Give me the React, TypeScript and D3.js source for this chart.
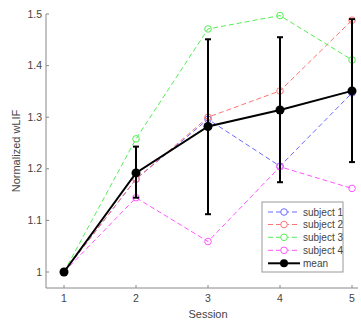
import React from "react";
import * as d3 from "d3";

const sessions = [1, 2, 3, 4, 5];
const subject1 = [1, 1.18, 1.296, 1.205, 1.347];
const subject2 = [1, 1.18, 1.3, 1.351, 1.488];
const subject3 = [1, 1.258, 1.471, 1.497, 1.411];
const subject4 = [1, 1.144, 1.059, 1.204, 1.162];
const meanVals = [1, 1.192, 1.282, 1.314, 1.351];
const errLow = [1, 1.144, 1.112, 1.174, 1.213];
const errHigh = [1, 1.243, 1.451, 1.455, 1.49];
const yTicks = [1, 1.1, 1.2, 1.3, 1.4, 1.5];
const seriesNames = ["subject 1", "subject 2", "subject 3", "subject 4"];
const seriesColors = ["#6a6aff", "#ff7474", "#55ee55", "#ff55ff"];

export default function App() {
  const W = 361, H = 324;
  const x = d3.scaleLinear().domain([1, 5]).range([64, 352]);
  const y = d3.scaleLinear().domain([1, 1.5]).range([272, 14]);
  const axisX0 = 46, axisY0 = 288, axisRight = 358;
  const allSeries = [subject1, subject2, subject3, subject4];
  const line = d3.line<number>().x((_, i) => x(sessions[i])).y((d) => y(d));
  const font = "Liberation Sans, Arial, sans-serif";
  const axisColor = "#888";
  const textColor = "#444";
  const legX = 262, legY = 202, legW = 81, legH = 70;
  const rowYs = [212, 224.5, 237.3, 250.3, 263.3];
  return (
    <svg width={W} height={H} style={{ position: "absolute", left: 0, top: 0 }} fontFamily={font}>
      <rect width={W} height={H} fill="#fff" />
      {/* axes */}
      <line x1={axisX0} x2={axisX0} y1={14} y2={axisY0} stroke={axisColor} strokeWidth={1} />
      <line x1={axisX0} x2={axisRight} y1={axisY0} y2={axisY0} stroke={axisColor} strokeWidth={1} />
      {yTicks.map((t) => (
        <g key={t}>
          <line x1={axisX0} x2={axisX0 + 3} y1={y(t)} y2={y(t)} stroke={axisColor} />
          <text x={axisX0 - 4} y={y(t)} dy="0.35em" textAnchor="end" fontSize={10.5} fill={textColor}>
            {t === 1 ? "1" : d3.format(".1f")(t)}
          </text>
        </g>
      ))}
      {sessions.map((s) => (
        <g key={s}>
          <line x1={x(s)} x2={x(s)} y1={axisY0} y2={axisY0 - 3} stroke={axisColor} />
          <text x={x(s)} y={axisY0 + 14} textAnchor="middle" fontSize={10.5} fill={textColor}>{s}</text>
        </g>
      ))}
      <text x={208} y={318} textAnchor="middle" fontSize={11} fill={textColor}>Session</text>
      <text transform={`translate(20,151) rotate(-90)`} textAnchor="middle" fontSize={11} fill={textColor}>Normalized wLIF</text>
      {/* subject series */}
      {allSeries.map((s, k) => (
        <g key={k}>
          <path d={line(s) || ""} fill="none" stroke={seriesColors[k]} strokeWidth={1} strokeDasharray="5,3" />
          {s.map((v, i) => (
            <circle key={i} cx={x(sessions[i])} cy={y(v)} r={3.3} fill="none" stroke={seriesColors[k]} strokeWidth={1} />
          ))}
        </g>
      ))}
      {/* error bars */}
      {sessions.map((s, i) => i === 0 ? null : (
        <g key={s} stroke="#000" strokeWidth={2}>
          <line x1={x(s)} x2={x(s)} y1={y(errLow[i])} y2={y(errHigh[i])} />
          <line x1={x(s) - 3} x2={x(s) + 3} y1={y(errLow[i])} y2={y(errLow[i])} />
          <line x1={x(s) - 3} x2={x(s) + 3} y1={y(errHigh[i])} y2={y(errHigh[i])} />
        </g>
      ))}
      <path d={line(meanVals) || ""} fill="none" stroke="#000" strokeWidth={2} />
      {meanVals.map((v, i) => (
        <circle key={i} cx={x(sessions[i])} cy={y(v)} r={4.5} fill="#000" />
      ))}
      {/* legend */}
      <rect x={legX} y={legY} width={legW} height={legH} fill="#fff" stroke="#999" strokeWidth={1} />
      {seriesNames.map((n, k) => (
        <g key={n}>
          <line x1={268} x2={300} y1={rowYs[k]} y2={rowYs[k]} stroke={seriesColors[k]} strokeDasharray="5,3" />
          <circle cx={284} cy={rowYs[k]} r={3.3} fill="#fff" stroke={seriesColors[k]} />
          <text x={303} y={rowYs[k]} dy="0.35em" fontSize={10} fill={textColor}>{n}</text>
        </g>
      ))}
      <line x1={268} x2={300} y1={rowYs[4]} y2={rowYs[4]} stroke="#000" strokeWidth={2} />
      <circle cx={284} cy={rowYs[4]} r={4} fill="#000" />
      <text x={303} y={rowYs[4]} dy="0.35em" fontSize={10} fill={textColor}>mean</text>
    </svg>
  );
}
